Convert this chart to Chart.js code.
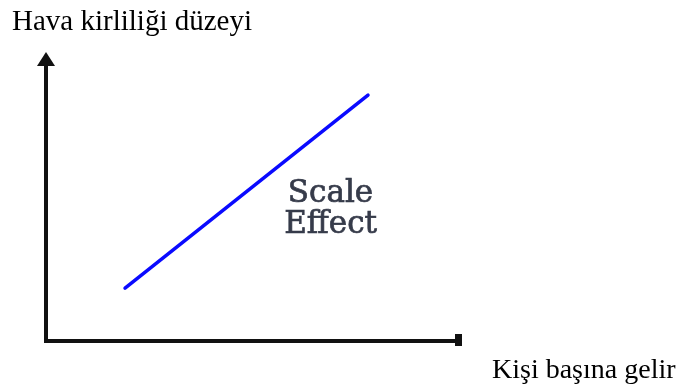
<!DOCTYPE html>
<html>
<head>
<meta charset="utf-8">
<script src="https://cdn.jsdelivr.net/npm/chart.js@4/dist/chart.umd.min.js"></script>
<style>
  html, body { margin: 0; padding: 0; background: #fff; }
  #wrap { position: relative; width: 687px; height: 387px; }
</style>
</head>
<body>
<div id="wrap"><canvas id="chart"></canvas></div>
<script>
// ─── Data ─────────────────────────────────────────────────────────────────────
const incomeLevels = [19, 77.4];      // x: Kişi başına gelir (arbitrary units 0..100)
const pollutionLevels = [18.3, 85.1]; // y: Hava kirliliği düzeyi (0..100)
const yAxisTitle = 'Hava kirliliği düzeyi';
const xAxisTitle = 'Kişi başına gelir';
const curveLabel = ['Scale', 'Effect'];

// ─── Axes with arrow heads + texts, drawn from the scales ─────────────────────
const sketchAxes = {
    id: 'sketchAxes',
    afterDatasetsDraw(chart) {
        const { ctx, scales: { x, y } } = chart;
        const x0 = x.getPixelForValue(0), x1 = x.getPixelForValue(100);
        const y0 = y.getPixelForValue(0), y1 = y.getPixelForValue(100);
        ctx.save();
        ctx.strokeStyle = '#111';
        ctx.fillStyle = '#111';
        ctx.lineWidth = 4;
        ctx.lineCap = 'butt';

        // y axis
        ctx.beginPath();
        ctx.moveTo(x0, y0 + 2);
        ctx.lineTo(x0, y1 + 10);
        ctx.stroke();
        ctx.beginPath();
        ctx.moveTo(x0, y1);
        ctx.lineTo(x0 - 9, y1 + 14);
        ctx.lineTo(x0 + 9, y1 + 14);
        ctx.closePath();
        ctx.fill();

        // x axis
        ctx.beginPath();
        ctx.moveTo(x0 - 2, y0);
        ctx.lineTo(x1, y0);
        ctx.stroke();
        ctx.fillRect(x1 - 7, y0 - 7, 7, 12);

        // label next to the curve
        const cx = x.getPixelForValue(68.4);
        ctx.fillStyle = '#363b4a';
        ctx.strokeStyle = '#363b4a';
        ctx.lineWidth = 0.7;
        ctx.font = '31px "DejaVu Serif"';
        ctx.textAlign = 'center';
        ctx.textBaseline = 'alphabetic';
        const ya = y.getPixelForValue(48.1), yb = y.getPixelForValue(37.4);
        ctx.fillText(curveLabel[0], cx, ya);
        ctx.strokeText(curveLabel[0], cx, ya);
        ctx.fillText(curveLabel[1], cx, yb);
        ctx.strokeText(curveLabel[1], cx, yb);

        // axis titles
        ctx.fillStyle = '#000';
        ctx.textAlign = 'left';
        ctx.font = '29px "Liberation Serif"';
        ctx.fillText(yAxisTitle, 12, 30);
        ctx.font = '28px "Liberation Serif"';
        ctx.fillText(xAxisTitle, 492, 378);
        ctx.restore();
    }
};

new Chart(document.getElementById('chart'), {
    type: 'line',
    data: {
        datasets: [{
            data: incomeLevels.map((v, i) => ({ x: v, y: pollutionLevels[i] })),
            borderColor: '#0a0aff',
            borderWidth: 3.5,
            borderCapStyle: 'round',
            pointRadius: 0,
            fill: false,
            tension: 0,
        }]
    },
    options: {
        responsive: true,
        maintainAspectRatio: false,
        animation: false,
        layout: { padding: { left: 46, top: 52, right: 225, bottom: 46 } },
        scales: {
            x: { type: 'linear', min: 0, max: 100, display: false },
            y: { type: 'linear', min: 0, max: 100, display: false },
        },
        plugins: {
            legend: { display: false },
            tooltip: { enabled: false },
        }
    },
    plugins: [sketchAxes]
});
</script>
</body>
</html>
